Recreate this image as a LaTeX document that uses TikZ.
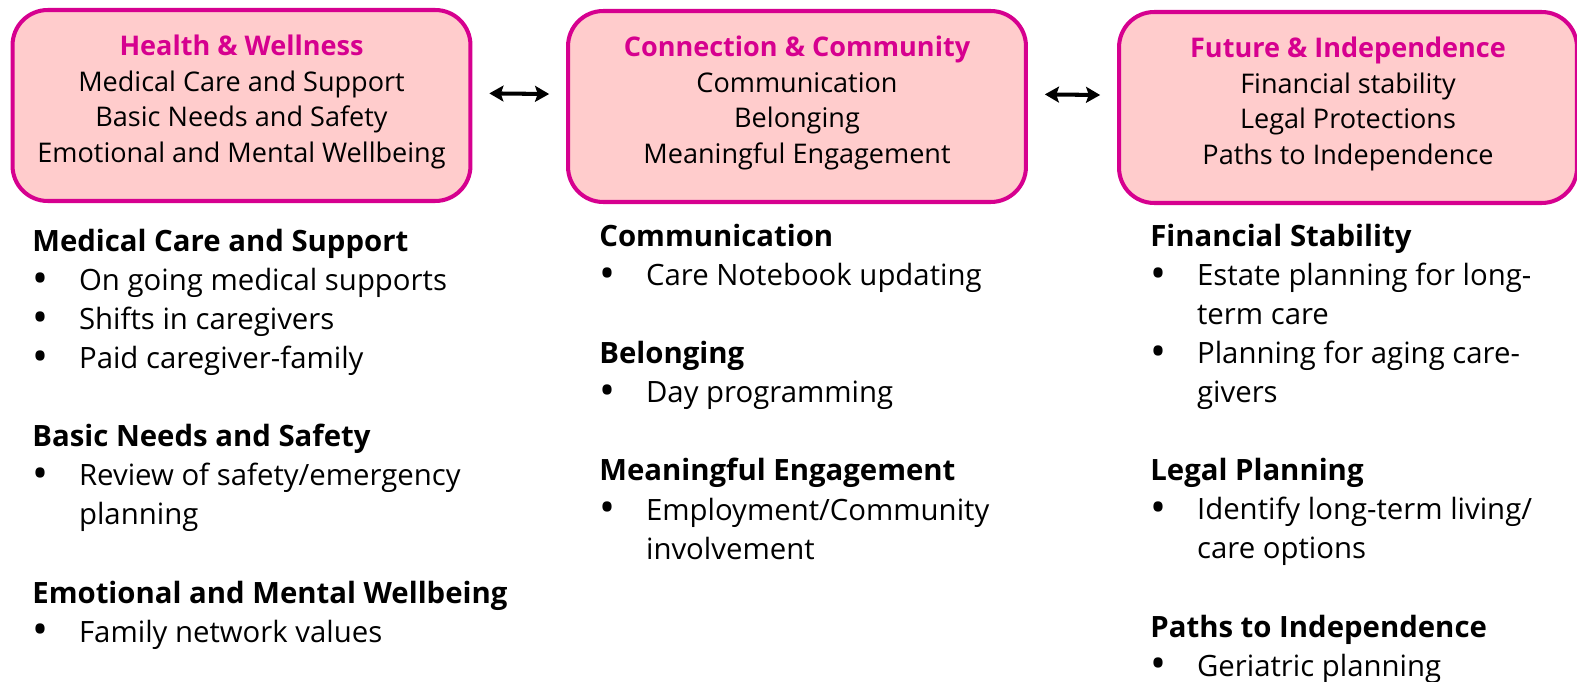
\documentclass[tikz,border=0pt]{standalone}
\usepackage{fontspec}
\setmainfont{Open Sans}
\usetikzlibrary{arrows.meta}
\definecolor{ringpink}{RGB}{214,0,143}
\definecolor{fillpink}{RGB}{255,204,204}
\newcommand{\topic}[1]{{\bfseries\color{ringpink}#1}}
\newcommand{\itm}[1]{\makebox[26.6pt][l]{\raisebox{-1.6pt}{\scalebox{1.45}{•}}}#1}
\newcommand{\cnt}[1]{\hspace*{26.6pt}#1}
\newcommand{\lift}{\rule[-7.7pt]{0pt}{0pt}}
\tikzset{
	topicbox/.style={draw=ringpink,fill=fillpink,line width=2.3pt,rounded corners=20pt,
		minimum width=9.16cm,minimum height=3.82cm,align=center,
		font=\fontsize{15.4}{20.4}\selectfont},
	listcol/.style={anchor=base west,inner sep=0pt,align=left,
		font=\fontsize{16.7}{22.2}\selectfont},
	twoway/.style={line width=2.3pt,{Stealth[length=8pt,width=9pt,inset=1.5pt]}-{Stealth[length=8pt,width=9pt,inset=1.5pt]},
		shorten <=9.6pt,shorten >=9.6pt}
}
\begin{document}
\begin{tikzpicture}[x=0.02cm,y=-0.02cm]
		\useasboundingbox (0,0) rectangle (1577,682);
		\node[topicbox] (health) at (241.5,105.5)
			{\topic{Health \& Wellness}\\Medical Care and Support\\Basic Needs and Safety\\Emotional and Mental Wellbeing\lift};
		\node[topicbox] (connect) at (797,106.5)
			{\topic{Connection \& Community}\\Communication\\Belonging\\Meaningful Engagement\lift};
		\node[topicbox] (future) at (1348,107.5)
			{\topic{Future \& Independence}\\Financial stability\\Legal Protections\\Paths to Independence\lift};
		\draw[twoway] ([yshift=7pt]health.east)--([yshift=7pt]connect.west);
		\draw[twoway] ([yshift=7pt]connect.east)--([yshift=7pt]future.west);
		% lists are placed by the baseline of their last line
		\node[listcol] (healthlist) at (32,642)
			{\textbf{Medical Care and Support}\\
			\itm{On going medical supports}\\
			\itm{Shifts in caregivers}\\
			\itm{Paid caregiver-family}\\[22.2pt]
			\textbf{Basic Needs and Safety}\\
			\itm{Review of safety/emergency}\\
			\cnt{planning}\\[22.2pt]
			\textbf{Emotional and Mental Wellbeing}\\
			\itm{Family network values}};
		\node[listcol] (connectlist) at (599,559)
			{\textbf{Communication}\\
			\itm{Care Notebook updating}\\[22.2pt]
			\textbf{Belonging}\\
			\itm{Day programming}\\[22.2pt]
			\textbf{Meaningful Engagement}\\
			\itm{Employment/Community}\\
			\cnt{involvement}};
		\node[listcol] (futurelist) at (1150,676)
			{\textbf{Financial Stability}\\
			\itm{Estate planning for long-}\\
			\cnt{term care}\\
			\itm{Planning for aging care-}\\
			\cnt{givers}\\[22.2pt]
			\textbf{Legal Planning}\\
			\itm{Identify long-term living/}\\
			\cnt{care options}\\[22.2pt]
			\textbf{Paths to Independence}\\
			\itm{Geriatric planning}};
	\end{tikzpicture}
\end{document}
